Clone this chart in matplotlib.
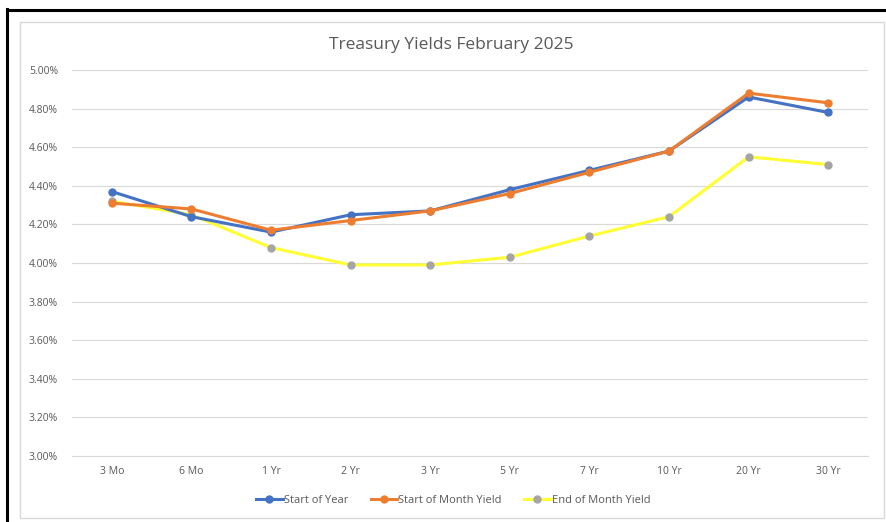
import matplotlib.pyplot as plt
from matplotlib.patches import Rectangle
from matplotlib.lines import Line2D
from matplotlib.ticker import FuncFormatter

# Treasury yields, February 2025 (percent)
maturities = ['3 Mo', '6 Mo', '1 Yr', '2 Yr', '3 Yr', '5 Yr', '7 Yr', '10 Yr', '20 Yr', '30 Yr']
start_of_year = [4.37, 4.24, 4.16, 4.25, 4.27, 4.38, 4.48, 4.58, 4.86, 4.78]
start_of_month = [4.31, 4.28, 4.17, 4.22, 4.27, 4.36, 4.47, 4.58, 4.88, 4.83]
end_of_month = [4.32, 4.25, 4.08, 3.99, 3.99, 4.03, 4.14, 4.24, 4.55, 4.51]
y_ticks = [3.0, 3.2, 3.4, 3.6, 3.8, 4.0, 4.2, 4.4, 4.6, 4.8, 5.0]

plt.rcParams['font.family'] = ['Open Sans', 'DejaVu Sans']
W, H = 887, 522
fig = plt.figure(figsize=(W / 100, H / 100), dpi=100)
fig.patch.set_facecolor('white')

# outer black border (left and top visible) and inner light frame
fig.add_artist(Line2D([7 / W, 7 / W], [0, 1 - 9 / H], color='black', lw=2.2, transform=fig.transFigure))
fig.add_artist(Line2D([7 / W, 1], [1 - 10 / H, 1 - 10 / H], color='black', lw=2.2, transform=fig.transFigure))
fig.add_artist(Rectangle((20 / W, 1 - 518 / H), 864 / W, 496 / H, fill=False,
                         edgecolor='#d9d9d9', lw=1, transform=fig.transFigure))

ax = fig.add_axes([72 / W, 1 - 456 / H, 796 / W, 386 / H])
x = range(len(maturities))
ax.plot(x, start_of_year, color='#4472c4', lw=2.2, marker='o', ms=5, label='Start of Year', zorder=3)
ax.plot(x, start_of_month, color='#ed7d31', lw=2.2, marker='o', ms=5, label='Start of Month Yield', zorder=4)
ax.plot(x, end_of_month, color='#ffff33', lw=2.2, marker='o', ms=5, mfc='#a5a5a5', mec='#a5a5a5',
        label='End of Month Yield', zorder=2)

ax.set_xlim(-0.5, len(maturities) - 0.5)
ax.set_ylim(3.0, 5.0)
ax.set_yticks(y_ticks)
ax.yaxis.set_major_formatter(FuncFormatter(lambda v, p: f'{v:.2f}%'))
ax.set_xticks(list(x))
ax.set_xticklabels(maturities)
ax.grid(axis='y', color='#d9d9d9', lw=0.8)
ax.set_axisbelow(True)
for s in ax.spines.values():
    s.set_visible(False)
ax.spines['bottom'].set_visible(True)
ax.spines['bottom'].set_color('#d9d9d9')
ax.tick_params(length=0, labelsize=7.5, colors='#595959', pad=7)
ax.tick_params(axis='y', pad=10)

# title centred on the chart frame rather than the plot area
ax.set_title('Treasury Yields February 2025', fontsize=12.5, color='#595959', pad=15, x=0.477)

ax.legend(loc='upper center', bbox_to_anchor=(0.479, -0.075), ncol=3, frameon=False, fontsize=8,
          labelcolor='#595959', handlelength=2.4, handletextpad=0.1, columnspacing=2.0)

fig.savefig('out.png', dpi=100)
